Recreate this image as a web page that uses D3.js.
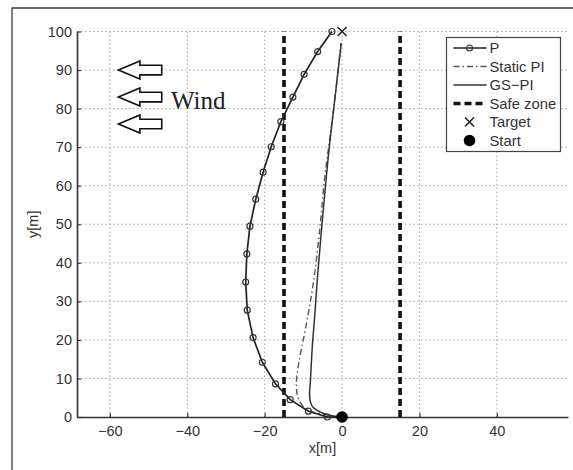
<!DOCTYPE html>
<html>
<head>
<meta charset="utf-8">
<script src="https://cdn.jsdelivr.net/npm/d3@7"></script>
<style>
  html, body { margin: 0; padding: 0; background: #fff; }
  svg { display: block; }
</style>
</head>
<body>
<svg id="chart" width="573" height="470"></svg>
<script>
// ---- data ----
const xTicks = [-60, -40, -20, 0, 20, 40];
const yTicks = [0, 10, 20, 30, 40, 50, 60, 70, 80, 90, 100];

const pX = [0, -3.8, -8.7, -13.4, -17.2, -20.6, -23.0, -24.5, -24.9, -24.6, -23.8, -22.3, -20.4, -18.3, -15.8, -12.7, -9.8, -6.3, -2.6];
const pY = [0, 0, 1.5, 4.5, 8.6, 14.2, 20.6, 27.7, 35.0, 42.3, 49.5, 56.5, 63.5, 70.1, 76.6, 83.0, 88.9, 94.8, 100];

const staticX = [0, -4.0, -9.0, -11.2, -11.8, -11.2, -9.5, -7.3, -5.6, -4.5, -3.2, -1.8, -0.3];
const staticY = [0, 0.6, 1.9, 4.5, 7.9, 14.0, 22.6, 35.6, 50.3, 62.0, 72.0, 83.0, 97.0];

const gsX = [0, -3.0, -5.5, -7.5, -8.2, -8.4, -8.2, -7.7, -7.0, -6.4, -5.0, -3.4, -1.8, -0.2];
const gsY = [0, 0.4, 1.2, 2.5, 4.0, 6.0, 9.0, 18.0, 27.0, 35.6, 52.0, 69.0, 83.0, 97.0];

const safeZoneX = [-15, 15];
const safeZoneY = [0, 100];
const target = [0, 100];
const start = [0, 0];

const windArrowY = [90, 83, 76];
const windArrowX = [-57.8, -46.6];
const windLabel = { text: "Wind", x: -44.2, y: 80 };

const legendLabels = ["P", "Static PI", "GS\u2212PI", "Safe zone", "Target", "Start"];

// ---- layout ----
const svg = d3.select("#chart");
const x = d3.scaleLinear().domain([-68.5, 58.4]).range([77, 568]);
const y = d3.scaleLinear().domain([0, 100]).range([417, 31.5]);

// outer frame (left + top visible, rest cropped)
svg.append("path")
  .attr("d", "M12,480 V8 H590")
  .attr("fill", "none").attr("stroke", "#3a3a3a").attr("stroke-width", 1.3);

// grid
const grid = svg.append("g").attr("stroke", "#a8a8a8").attr("stroke-width", 1).attr("stroke-dasharray", "1.5,2.5");
grid.selectAll("line.gx").data(xTicks).join("line")
  .attr("x1", d => x(d)).attr("x2", d => x(d))
  .attr("y1", y(0)).attr("y2", y(100));
grid.selectAll("line.gy").data(yTicks.filter(d => d > 0)).join("line")
  .attr("x1", x.range()[0]).attr("x2", x.range()[1])
  .attr("y1", d => y(d)).attr("y2", d => y(d));

// axes
const fontFam = "'Liberation Sans', Arial, Helvetica, sans-serif";
const xAxis = svg.append("g").attr("transform", `translate(0,${y(0)})`)
  .call(d3.axisBottom(x).tickValues(xTicks).tickSizeInner(-4).tickSizeOuter(0).tickPadding(9).tickFormat(d => d < 0 ? "\u2212" + Math.abs(d) : d));
const yAxis = svg.append("g").attr("transform", `translate(${x.range()[0]},0)`)
  .call(d3.axisLeft(y).tickValues(yTicks).tickSizeInner(-4).tickSizeOuter(0).tickPadding(5));
[xAxis, yAxis].forEach(a => {
  a.select(".domain").attr("stroke", "#333").attr("stroke-width", 1.6);
  a.selectAll(".tick line").attr("stroke", "#333").attr("stroke-width", 1.2);
  a.selectAll(".tick text").attr("fill", "#333").style("font-family", fontFam).style("font-size", "14.5px");
});

// axis labels
svg.append("text").attr("x", (x.range()[0] + x.range()[1]) / 2).attr("y", 453)
  .attr("text-anchor", "middle").attr("fill", "#333")
  .style("font-family", fontFam).style("font-size", "14.5px").text("x[m]");
svg.append("text").attr("transform", `translate(38,${(y(0) + y(100)) / 2}) rotate(-90)`)
  .attr("text-anchor", "middle").attr("fill", "#333")
  .style("font-family", fontFam).style("font-size", "14.5px").text("y[m]");

// safe zone
svg.append("g").selectAll("line").data(safeZoneX).join("line")
  .attr("x1", d => x(d)).attr("x2", d => x(d))
  .attr("y1", y(safeZoneY[0])).attr("y2", y(safeZoneY[1]))
  .attr("stroke", "#111").attr("stroke-width", 3.6).attr("stroke-dasharray", "7,4");

const line = d3.line().x(d => x(d[0])).y(d => y(d[1])).curve(d3.curveCatmullRom.alpha(0.5));

// Static PI
svg.append("path").datum(staticX.map((v, i) => [v, staticY[i]]))
  .attr("d", line).attr("fill", "none").attr("stroke", "#555").attr("stroke-width", 1.4)
  .attr("stroke-dasharray", "6,3,1.5,3");
// GS-PI
svg.append("path").datum(gsX.map((v, i) => [v, gsY[i]]))
  .attr("d", line).attr("fill", "none").attr("stroke", "#333").attr("stroke-width", 1.5);

// P
const pData = pX.map((v, i) => [v, pY[i]]);
svg.append("path").datum(pData)
  .attr("d", d3.line().x(d => x(d[0])).y(d => y(d[1])))
  .attr("fill", "none").attr("stroke", "#222").attr("stroke-width", 1.7);
svg.append("g").selectAll("circle").data(pData.slice(1)).join("circle")
  .attr("cx", d => x(d[0])).attr("cy", d => y(d[1])).attr("r", 3)
  .attr("fill", "none").attr("stroke", "#333").attr("stroke-width", 1.2);

// target & start
const xs = 4.5;
svg.append("path")
  .attr("d", `M${x(target[0]) - xs},${y(target[1]) - xs}L${x(target[0]) + xs},${y(target[1]) + xs}M${x(target[0]) - xs},${y(target[1]) + xs}L${x(target[0]) + xs},${y(target[1]) - xs}`)
  .attr("stroke", "#222").attr("stroke-width", 1.6);
svg.append("circle").attr("cx", x(start[0])).attr("cy", y(start[1])).attr("r", 5.8).attr("fill", "#000");

// wind arrows
const headLen = 21.5, headH = 9, shaftH = 4.8;
svg.append("g").selectAll("path").data(windArrowY).join("path")
  .attr("d", d => {
    const tx = x(windArrowX[0]), ex = x(windArrowX[1]), cy = y(d);
    const hx = tx + headLen;
    return `M${tx},${cy}L${hx},${cy - headH}L${hx},${cy - shaftH}L${ex},${cy - shaftH}L${ex},${cy + shaftH}L${hx},${cy + shaftH}L${hx},${cy + headH}Z`;
  })
  .attr("fill", "#fff").attr("stroke", "#111").attr("stroke-width", 1.6).attr("stroke-linejoin", "miter");
svg.append("text").attr("x", x(windLabel.x)).attr("y", y(windLabel.y))
  .attr("fill", "#222").style("font-family", "'Liberation Serif', 'Times New Roman', serif").style("font-size", "25px")
  .text(windLabel.text);

// legend
const lg = svg.append("g").attr("transform", "translate(446.5,37.5)");
lg.append("rect").attr("width", 114).attr("height", 114).attr("fill", "#fff").attr("stroke", "#444").attr("stroke-width", 1.2);
const rowY = i => 10.5 + i * 18.5;
const lx0 = 7, lx1 = 40, mx = 23;
lg.selectAll("text").data(legendLabels).join("text")
  .attr("x", 43).attr("y", (d, i) => rowY(i)).attr("dy", "0.36em")
  .attr("fill", "#333").style("font-family", fontFam).style("font-size", "14.8px").text(d => d);
// P
lg.append("line").attr("x1", lx0).attr("x2", lx1).attr("y1", rowY(0)).attr("y2", rowY(0)).attr("stroke", "#222").attr("stroke-width", 1.7);
lg.append("circle").attr("cx", mx).attr("cy", rowY(0)).attr("r", 3).attr("fill", "none").attr("stroke", "#333").attr("stroke-width", 1.2);
// Static PI
lg.append("line").attr("x1", lx0).attr("x2", lx1).attr("y1", rowY(1)).attr("y2", rowY(1)).attr("stroke", "#555").attr("stroke-width", 1.4).attr("stroke-dasharray", "6,3,1.5,3");
// GS-PI
lg.append("line").attr("x1", lx0).attr("x2", lx1).attr("y1", rowY(2)).attr("y2", rowY(2)).attr("stroke", "#333").attr("stroke-width", 1.5);
// Safe zone
lg.append("line").attr("x1", lx0).attr("x2", lx1).attr("y1", rowY(3)).attr("y2", rowY(3)).attr("stroke", "#111").attr("stroke-width", 3.6).attr("stroke-dasharray", "7,4");
// Target
lg.append("path").attr("d", `M${mx - xs},${rowY(4) - xs}L${mx + xs},${rowY(4) + xs}M${mx - xs},${rowY(4) + xs}L${mx + xs},${rowY(4) - xs}`)
  .attr("stroke", "#222").attr("stroke-width", 1.6);
// Start
lg.append("circle").attr("cx", mx).attr("cy", rowY(5)).attr("r", 5.8).attr("fill", "#000");
</script>
</body>
</html>
